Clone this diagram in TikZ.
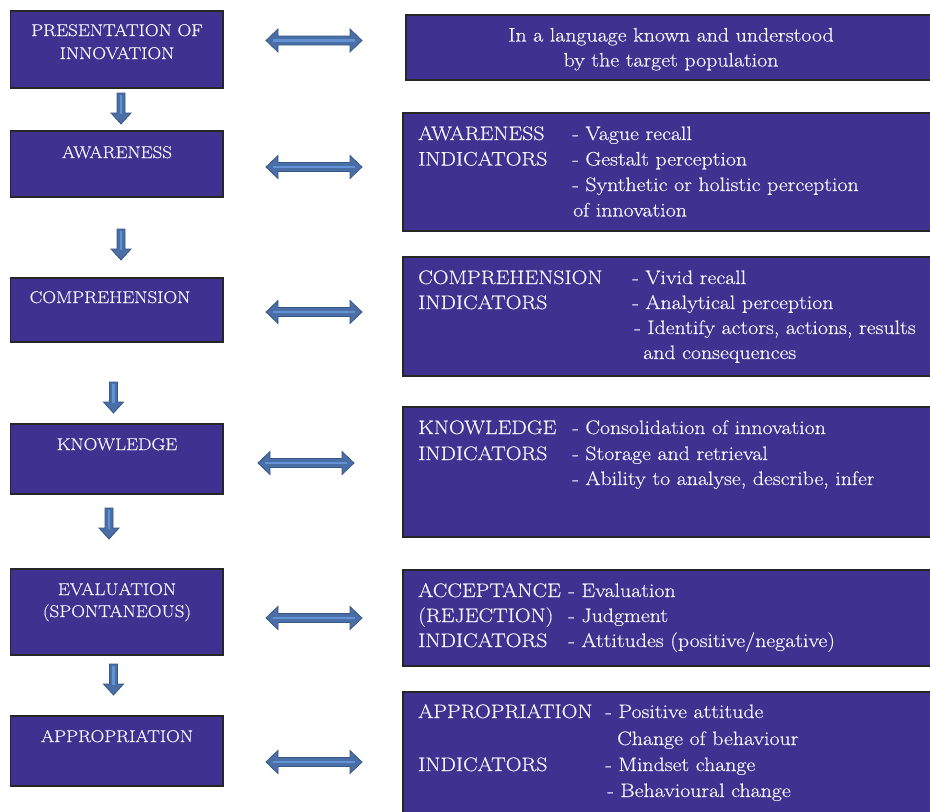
\documentclass[tikz,border=0pt]{standalone}
\usepackage{fontspec}
\setmainfont{Latin Modern Roman}[FakeStretch=1.12, FakeBold=0.5]
\usepackage{tikz}

\definecolor{boxfill}{RGB}{63,49,143}
\definecolor{boxtext}{RGB}{244,242,252}
\definecolor{arrowfill}{RGB}{74,110,166}
\definecolor{arrowedge}{RGB}{55,88,135}
\definecolor{arrowlight}{RGB}{98,146,212}

\tikzset{
  stage/.style={draw=black!85, line width=1.1pt, fill=boxfill, inner sep=0pt,
    outer sep=0pt, anchor=north west},
  lefttext/.style={text=boxtext, font=\fontsize{17}{21}\selectfont, anchor=base, inner sep=0pt},
  righttext/.style={text=boxtext, font=\fontsize{19.5}{24}\selectfont, anchor=base west, inner sep=0pt},
  blockarrow/.style={fill=arrowfill, draw=arrowedge, line width=0.8pt, line join=miter},
  stripe/.style={draw=arrowlight, line width=2.2pt},
}

% downward block arrow: name, x of centre, y of top
\newcommand{\flowdown}[3]{%
  \coordinate (#1) at (#2,#3);
  \filldraw[blockarrow] (#2-4,#3) -- (#2+4,#3) -- (#2+4,#3+20) -- (#2+10,#3+20)
    -- (#2,#3+31) -- (#2-10,#3+20) -- (#2-4,#3+20) -- cycle;
  \draw[stripe] (#2,#3+2) -- (#2,#3+21);
}
% horizontal double block arrow: name, left tip x, right tip x, y
\newcommand{\flowboth}[4]{%
  \coordinate (#1) at ({(#2+#3)/2},#4);
  \filldraw[blockarrow] (#2,#4) -- (#2+12,#4-11.5) -- (#2+12,#4-4.5) -- (#3-12,#4-4.5)
    -- (#3-12,#4-11.5) -- (#3,#4) -- (#3-12,#4+11.5) -- (#3-12,#4+4.5)
    -- (#2+12,#4+4.5) -- (#2+12,#4+11.5) -- cycle;
  \draw[stripe] (#2+7,#4) -- (#3-7,#4);
}

\begin{document}
\begin{tikzpicture}[x=1pt,y=-1pt]
\useasboundingbox (0,0) rectangle (930,812);

% stages on the left
\node[stage, minimum width=212.5pt, minimum height=77pt] (L1) at (10.5,11) {};
\node[stage, minimum width=212.5pt, minimum height=66pt] (L2) at (10.5,131) {};
\node[stage, minimum width=212.5pt, minimum height=64pt] (L3) at (10.5,278) {};
\node[stage, minimum width=212.5pt, minimum height=70pt] (L4) at (10.5,424) {};
\node[stage, minimum width=212.5pt, minimum height=86pt] (L5) at (10.5,569) {};
\node[stage, minimum width=212.5pt, minimum height=70pt] (L6) at (10.5,716) {};

\node[lefttext] (l1a) at (117,36) {PRESENTATION OF};
\node[lefttext] (l1b) at (117,59) {INNOVATION};
\node[lefttext] (l2a) at (117,158) {AWARENESS};
\node[lefttext] (l3a) at (110,303) {COMPREHENSION};
\node[lefttext] (l4a) at (117,450) {KNOWLEDGE};
\node[lefttext] (l5a) at (117,595) {EVALUATION};
\node[lefttext] (l5b) at (117,617) {(SPONTANEOUS)};
\node[lefttext] (l6a) at (117,742) {APPROPRIATION};

% indicator panels on the right
\node[stage, minimum width=530pt, minimum height=65pt] (R1) at (406,15) {};
\node[stage, minimum width=532pt, minimum height=118pt] (R2) at (403,113) {};
\node[stage, minimum width=532pt, minimum height=119pt] (R3) at (403,257) {};
\node[stage, minimum width=532pt, minimum height=130pt] (R4) at (403,407) {};
\node[stage, minimum width=532pt, minimum height=96pt] (R5) at (403,570) {};
\node[stage, minimum width=532pt, minimum height=130pt] (R6) at (403,692) {};

\node[righttext, anchor=base] (r1a) at (671,41.5) {In a language known and understood};
\node[righttext, anchor=base] (r1b) at (671,66.5) {by the target population};

\node[righttext] (r2a) at (418,140) {AWARENESS};
\node[righttext] (r2b) at (418,165.5) {INDICATORS};
\node[righttext] (r2c) at (572,140) {- Vague recall};
\node[righttext] (r2d) at (572,165.5) {- Gestalt perception};
\node[righttext] (r2e) at (572,191) {- Synthetic or holistic perception};
\node[righttext] (r2f) at (573,216.5) {of innovation};

\node[righttext] (r3a) at (418,284) {COMPREHENSION};
\node[righttext] (r3b) at (418,309) {INDICATORS};
\node[righttext] (r3c) at (632,284) {- Vivid recall};
\node[righttext] (r3d) at (632,309) {- Analytical perception};
\node[righttext] (r3e) at (634,334) {- Identify actors, actions, results};
\node[righttext] (r3f) at (643,359) {and consequences};

\node[righttext] (r4a) at (418,434) {KNOWLEDGE};
\node[righttext] (r4b) at (418,460) {INDICATORS};
\node[righttext] (r4c) at (572,434) {- Consolidation of innovation};
\node[righttext] (r4d) at (572,460) {- Storage and retrieval};
\node[righttext] (r4e) at (572,485) {- Ability to analyse, describe, infer};

\node[righttext] (r5a) at (418,597) {ACCEPTANCE};
\node[righttext] (r5b) at (418,622) {(REJECTION)};
\node[righttext] (r5c) at (418,647) {INDICATORS};
\node[righttext] (r5d) at (568,597) {- Evaluation};
\node[righttext] (r5e) at (568,622) {- Judgment};
\node[righttext] (r5f) at (568,647) {- Attitudes (positive/negative)};

\node[righttext] (r6a) at (418,718) {APPROPRIATION};
\node[righttext] (r6b) at (418,771) {INDICATORS};
\node[righttext] (r6c) at (605,718) {- Positive attitude};
\node[righttext] (r6d) at (617,745) {Change of behaviour};
\node[righttext] (r6e) at (605,771) {- Mindset change};
\node[righttext] (r6f) at (607,797) {- Behavioural change};

% progression arrows between stages
\flowdown{d1}{121}{93}
\flowdown{d2}{121}{229}
\flowdown{d3}{113.5}{382}
\flowdown{d4}{109}{508}
\flowdown{d5}{113.5}{664}

% two-way arrows between stages and indicators
\flowboth{h1}{266}{362}{40.5}
\flowboth{h2}{266}{362}{167}
\flowboth{h3}{266}{362}{312}
\flowboth{h4}{258}{354}{463}
\flowboth{h5}{266}{362}{618}
\flowboth{h6}{266}{362}{762}
\end{tikzpicture}
\end{document}
